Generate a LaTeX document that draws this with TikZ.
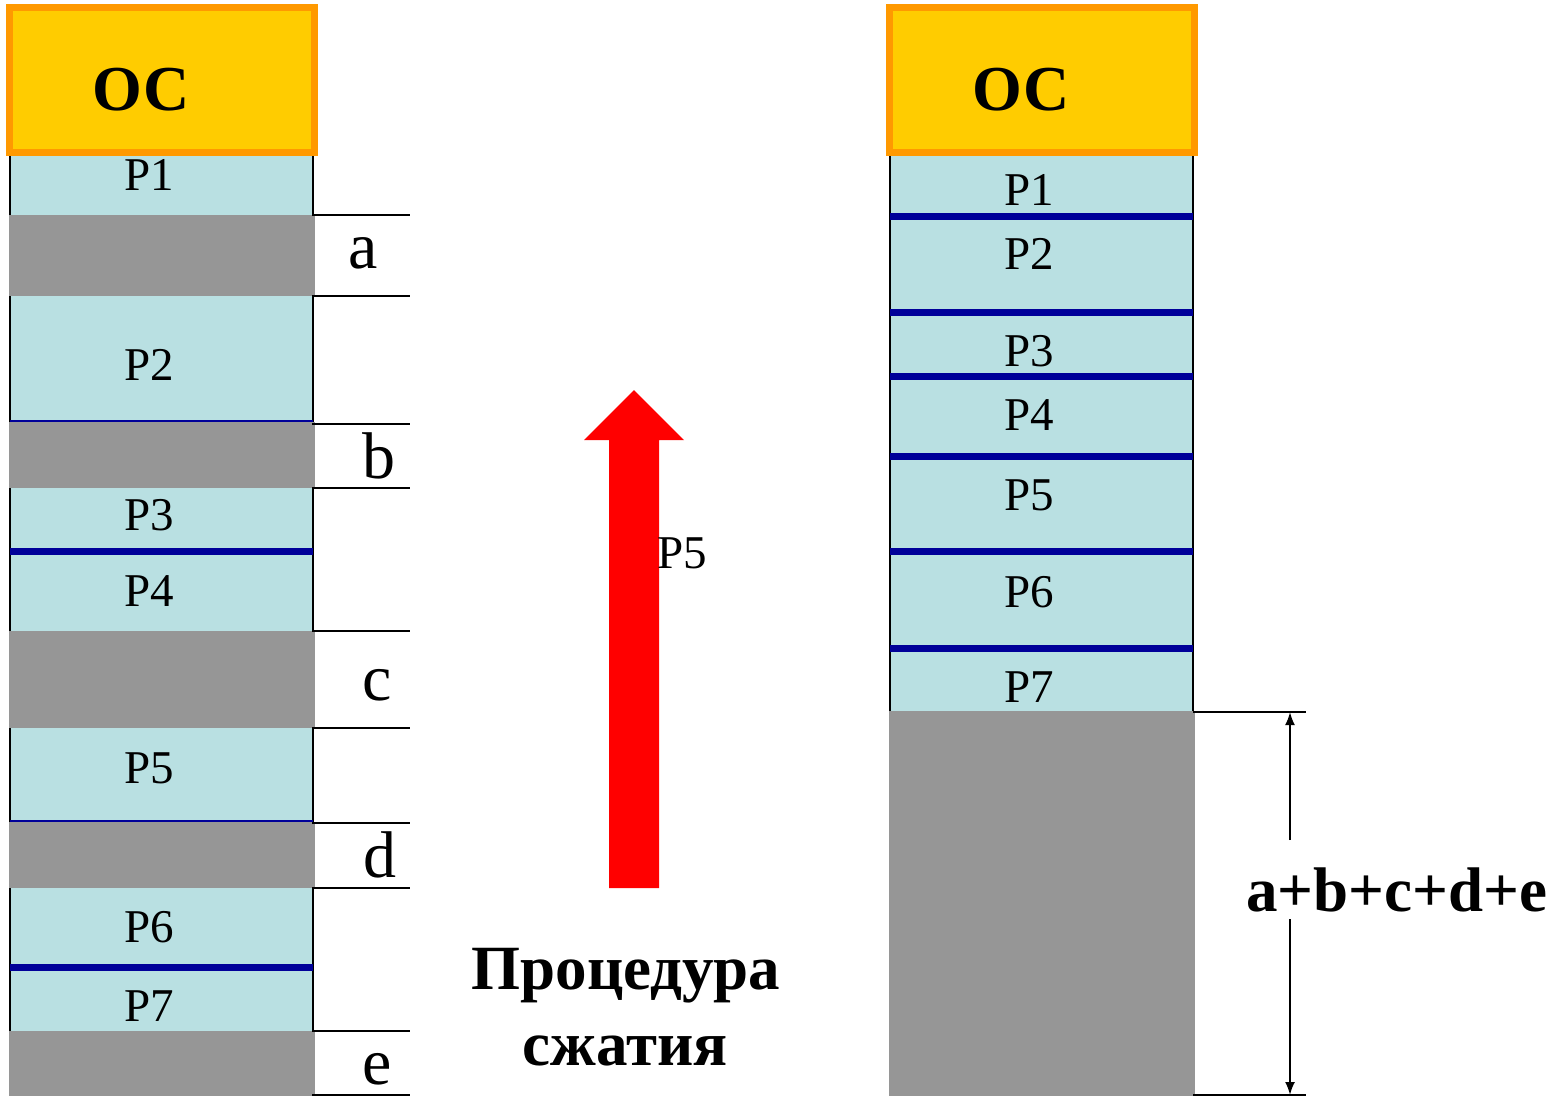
\documentclass[tikz,border=0pt]{standalone}
\usepackage{fontspec}
\setmainfont{Liberation Serif}
\usetikzlibrary{arrows.meta}
\definecolor{segc}{HTML}{B9E0E2}
\definecolor{gapc}{HTML}{969696}
\definecolor{bluc}{HTML}{000099}
\definecolor{osyc}{HTML}{FFCC00}
\definecolor{osoc}{HTML}{FF9900}
\begin{document}
\begin{tikzpicture}[x=1pt,y=-1pt,
  plabel/.style={anchor=base, inner sep=0pt, font=\fontsize{47}{56}\selectfont},
  glabel/.style={anchor=base, inner sep=0pt, font=\fontsize{66}{76}\selectfont},
  oslabel/.style={anchor=base, inner sep=0pt, font=\fontsize{64}{74}\selectfont\bfseries},
  boldlabel/.style={anchor=base, inner sep=0pt, font=\fontsize{63}{72}\selectfont\bfseries},
  osbox/.style={draw=osoc, fill=osyc, line width=7pt, minimum width=305pt, minimum height=145pt, inner sep=0pt},
  edge/.style={black, line width=2pt},
  thinblue/.style={bluc, line width=2.5pt},
  thickblue/.style={bluc, line width=7pt},
  dimline/.style={black, line width=2pt, -{Latex[length=13pt,width=10pt]}}
]
\useasboundingbox (0,0) rectangle (1567,1096);

% ---------- left column ----------
\fill[segc] (10,156) rectangle (313,1031);
\foreach \ya/\yb in {215/296, 422/488, 631/728, 822/888, 1031/1096}
  \fill[gapc] (9,\ya) rectangle (315,\yb);
\foreach \ya/\yb in {156/215, 296/422, 488/631, 728/822, 888/1031}{
  \draw[edge] (10,\ya) -- (10,\yb);
  \draw[edge] (313,\ya) -- (313,\yb);
}
\draw[thinblue] (10,421) -- (313,421);
\draw[thinblue] (10,821) -- (313,821);
\draw[thickblue] (10,551.5) -- (313,551.5);
\draw[thickblue] (10,967.5) -- (313,967.5);
\foreach \y in {215, 296, 424, 488, 631, 728, 823, 888, 1031, 1095}
  \draw[edge] (312,\y) -- (410,\y);

\node[osbox] (osL) at (162,80) {};
\node[oslabel] (osLt) at (141,110) {ОС};

\node[plabel] (L1) at (149,190) {P1};
\node[plabel] (L2) at (149,380) {P2};
\node[plabel] (L3) at (149,530) {P3};
\node[plabel] (L4) at (149,606) {P4};
\node[plabel] (L5) at (149,783) {P5};
\node[plabel] (L6) at (149,942) {P6};
\node[plabel] (L7) at (149,1021) {P7};

\node[glabel] (ga) at (363,268) {a};
\node[glabel] (gb) at (379,478) {b};
\node[glabel] (gc) at (377,700) {c};
\node[glabel] (gd) at (380,877) {d};
\node[glabel] (ge) at (377,1084) {e};

% ---------- red arrow ----------
\fill[red] (609,888) -- (609,440) -- (584,440) -- (634,390) -- (684,440) -- (659,440) -- (659,888) -- cycle;
\node[plabel, anchor=base west] (mv) at (657,568) {P5};
\node[boldlabel] (proc1) at (626,989) {Процедура};
\node[boldlabel] (proc2) at (625,1065) {сжатия};

% ---------- right column ----------
\fill[segc] (890,156) rectangle (1193,711);
\fill[gapc] (889,711) rectangle (1195,1096);
\draw[edge] (890,156) -- (890,711);
\draw[edge] (1193,156) -- (1193,711);
\foreach \y in {216, 312.5, 376, 456, 551, 648}
  \draw[thickblue] (890,\y) -- (1193,\y);

\node[osbox] (osR) at (1041.5,80) {};
\node[oslabel] (osRt) at (1021,110) {ОС};

\node[plabel] (R1) at (1029,205) {P1};
\node[plabel] (R2) at (1029,269) {P2};
\node[plabel] (R3) at (1029,366) {P3};
\node[plabel] (R4) at (1029,430) {P4};
\node[plabel] (R5) at (1029,510) {P5};
\node[plabel] (R6) at (1029,607) {P6};
\node[plabel] (R7) at (1029,702) {P7};

% ---------- dimension ----------
\draw[edge] (1193,712) -- (1306,712);
\draw[edge] (1193,1095) -- (1306,1095);
\coordinate (dtop) at (1290,712);
\coordinate (dbot) at (1290,1095);
\coordinate (dga) at (1290,840);
\coordinate (dgb) at (1290,919);
\draw[dimline] (dga) -- (dtop);
\draw[dimline] (dgb) -- (dbot);
\node[boldlabel] (sum) at (1397,911) {a+b+c+d+e};
\end{tikzpicture}
\end{document}
